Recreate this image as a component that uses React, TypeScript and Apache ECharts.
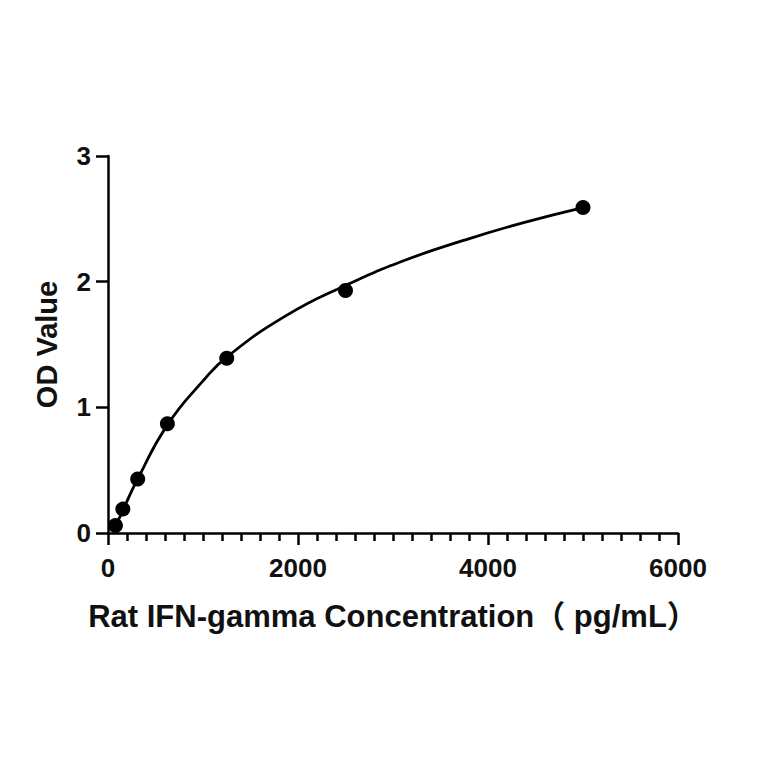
import React, { useEffect, useRef } from "react";
import * as echarts from "echarts";

const concentrations = [78.125, 156.25, 312.5, 625, 1250, 2500, 5000];
const odValues = [0.06, 0.19, 0.43, 0.87, 1.39, 1.93, 2.59];

const curveX = [78.125, 156.25, 312.5, 625, 1000, 1250, 1875, 2500, 3125, 3750, 4375, 5000];
const curveY = [0.05, 0.18, 0.43, 0.86, 1.21, 1.4, 1.73, 1.97, 2.17, 2.33, 2.47, 2.59];

const xTitle = "Rat IFN-gamma Concentration（ pg/mL）";
const yTitle = "OD Value";

const FONT = "'Liberation Sans', Arial, 'Noto Sans CJK SC', sans-serif";

export default function App() {
  const ref = useRef<HTMLDivElement>(null);
  useEffect(() => {
    if (!ref.current) return;
    const chart = echarts.init(ref.current, null, { renderer: "svg" });
    chart.setOption({
      animation: false,
      backgroundColor: "#ffffff",
      grid: { left: 100, right: 78, top: 148, bottom: 223, containLabel: false },
      xAxis: {
        type: "value",
        min: 0,
        max: 6000,
        interval: 2000,
        name: xTitle,
        nameLocation: "middle",
        nameGap: 68,
        nameTextStyle: { fontFamily: FONT, fontWeight: "bold", fontSize: 31, color: "#111" },
        axisLine: { show: true, onZero: false, lineStyle: { color: "#000", width: 2.5 } },
        axisTick: { show: true, inside: false, length: 12, lineStyle: { color: "#000", width: 2.5 } },
        minorTick: { show: true, splitNumber: 10, length: 8, lineStyle: { color: "#000", width: 2.5 } },
        axisLabel: {
          fontFamily: FONT,
          fontWeight: "bold",
          fontSize: 26,
          color: "#111",
          margin: 22,
          formatter: (v: number) => String(v),
        },
        splitLine: { show: false },
        minorSplitLine: { show: false },
      },
      yAxis: {
        type: "value",
        min: 0,
        max: 3,
        interval: 1,
        name: yTitle,
        nameLocation: "middle",
        nameRotate: 90,
        nameGap: 47,
        nameTextStyle: { fontFamily: FONT, fontWeight: "bold", fontSize: 29, color: "#111" },
        axisLine: { show: true, onZero: false, lineStyle: { color: "#000", width: 2.5 } },
        axisTick: { show: true, length: 12, lineStyle: { color: "#000", width: 2.5 } },
        axisLabel: {
          fontFamily: FONT,
          fontWeight: "bold",
          fontSize: 26,
          color: "#111",
          margin: 17,
          formatter: (v: number) => String(v),
        },
        splitLine: { show: false },
      },
      series: [
        {
          type: "line",
          data: curveX.map((x, i) => [x, curveY[i]]),
          smooth: true,
          showSymbol: false,
          symbol: "none",
          lineStyle: { color: "#000", width: 2.8 },
          z: 2,
        },
        {
          type: "scatter",
          data: concentrations.map((x, i) => [x, odValues[i]]),
          symbol: "circle",
          symbolSize: 15,
          itemStyle: { color: "#000", opacity: 1 },
          z: 3,
        },
      ],
    });
    return () => chart.dispose();
  }, []);
  return <div ref={ref} style={{ width: 748, height: 748 }} />;
}
